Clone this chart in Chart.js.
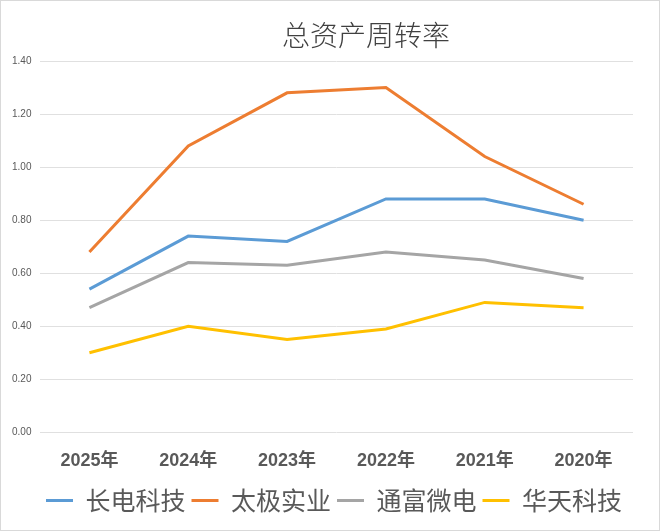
<!DOCTYPE html>
<html>
<head>
<meta charset="utf-8">
<script src="https://cdn.jsdelivr.net/npm/chart.js@4"></script>
<style>
  body { margin: 0; background: #fff; }
  #wrap { position: relative; width: 660px; height: 531px; }
  #wrap::after { content: ''; position: absolute; inset: 0; border: 1px solid #d9d9d9; pointer-events: none; }
</style>
</head>
<body>
<div id="wrap"><canvas id="turnover"></canvas></div>
<script>
const years = ['2025年', '2024年', '2023年', '2022年', '2021年', '2020年'];
const changdian = [0.54, 0.74, 0.72, 0.88, 0.88, 0.80];
const taiji = [0.68, 1.08, 1.28, 1.30, 1.04, 0.86];
const tongfu = [0.47, 0.64, 0.63, 0.68, 0.65, 0.58];
const huatian = [0.30, 0.40, 0.35, 0.39, 0.49, 0.47];
const yTicks = [0, 0.2, 0.4, 0.6, 0.8, 1.0, 1.2, 1.4];

const FONT = '"Liberation Sans", "Noto Sans CJK SC", sans-serif';
const CJK = '"Noto Sans CJK SC", sans-serif';

// Excel puts the title over the middle of the plot, a bit right of canvas centre
const titlePlugin = {
  id: 'sheetTitle',
  afterDraw(chart) {
    const c = chart.ctx;
    c.save();
    c.font = '300 28px ' + CJK;
    c.fillStyle = '#404040';
    c.textAlign = 'center';
    c.textBaseline = 'middle';
    c.fillText('总资产周转率', 366, 35);
    c.restore();
  }
};

function line(label, data, color) {
  return {
    label, data,
    borderColor: color,
    backgroundColor: color,
    borderWidth: 3,
    pointRadius: 0,
    tension: 0,
    fill: false
  };
}

new Chart(document.getElementById('turnover'), {
  type: 'line',
  data: {
    labels: years,
    datasets: [
      line('长电科技', changdian, '#5b9bd5'),
      line('太极实业', taiji, '#ed7d31'),
      line('通富微电', tongfu, '#a5a5a5'),
      line('华天科技', huatian, '#ffc000')
    ]
  },
  options: {
    responsive: true,
    maintainAspectRatio: false,
    animation: false,
    // big left padding + thin y axis so the legend centres under the plot
    layout: { padding: { top: 61, left: 35, right: 27, bottom: 8 } },
    plugins: {
      title: { display: false },
      tooltip: { enabled: false },
      legend: {
        position: 'bottom',
        labels: {
          usePointStyle: true,
          pointStyle: 'line',
          pointStyleWidth: 27,
          color: '#595959',
          font: { family: CJK, size: 25 },
          padding: 6
        }
      }
    },
    scales: {
      x: {
        offset: true,
        grid: { display: false },
        border: { display: false },
        ticks: {
          color: '#595959',
          padding: 10,
          maxRotation: 0,
          font: { family: FONT, size: 18, weight: 'bold' }
        }
      },
      y: {
        min: 0,
        max: 1.4,
        afterBuildTicks(axis) { axis.ticks = yTicks.map(v => ({ value: v })); },
        afterFit(axis) { axis.width = 5; },
        grid: { color: '#e0e0e0', lineWidth: 1, drawTicks: false },
        border: { display: false },
        ticks: {
          // mirrored labels are not clipped to the thin axis; pull them back left
          mirror: true,
          padding: -28,
          color: '#595959',
          font: { family: FONT, size: 10 },
          callback: v => Number(v).toFixed(2)
        }
      }
    }
  },
  plugins: [titlePlugin]
});
</script>
</body>
</html>
